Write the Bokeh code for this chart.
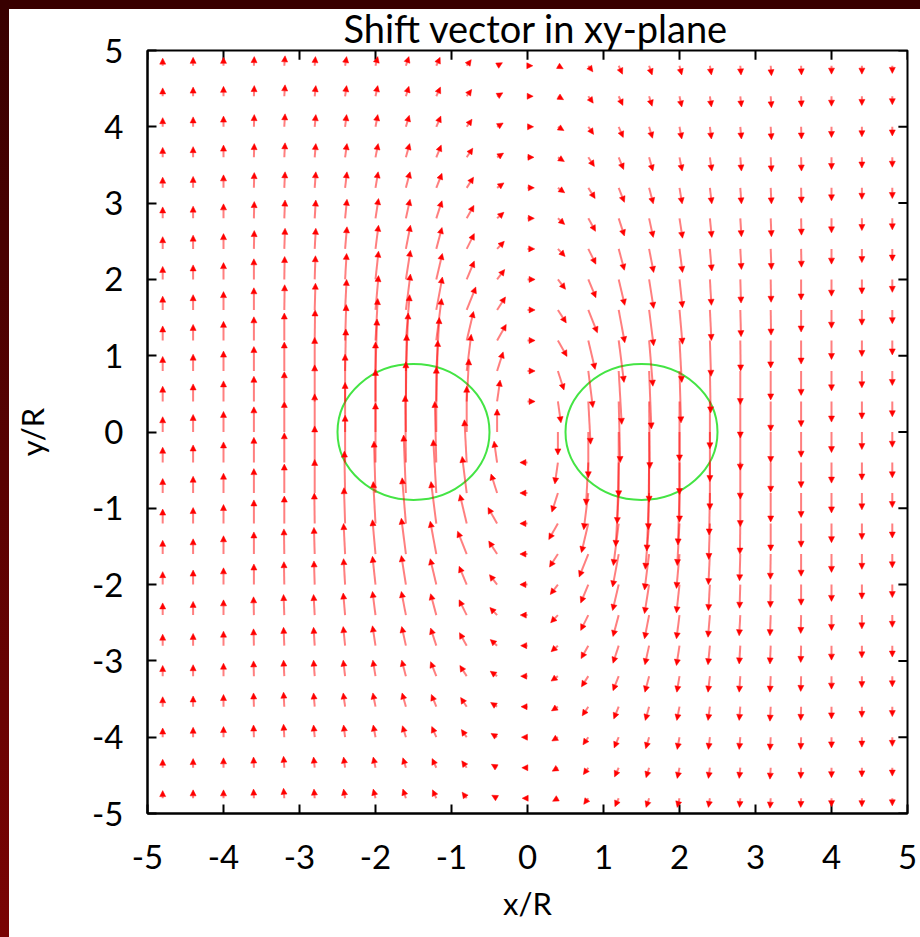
from bokeh.plotting import figure
from bokeh.models import Arrow, NormalHead, ColumnDataSource, FixedTicker
from bokeh.layouts import column
from bokeh.embed import file_html
from bokeh.resources import INLINE

# Sample points of the vector field (in units of R)
GRID = [-4.8, -4.4, -4.0, -3.6, -3.2, -2.8, -2.4, -2.0, -1.6, -1.2, -0.8, -0.4,
        0.0, 0.4, 0.8, 1.2, 1.6, 2.0, 2.4, 2.8, 3.2, 3.6, 4.0, 4.4, 4.8]

# Shift components in the quadrant x <= 0, y >= 0.
# One list per column x = -4.8 ... 0.0, entries for y = 0.0, 0.4, ... 4.8.
SHIFT_Y_QUAD = [
    [0.20, 0.20, 0.19, 0.19, 0.18, 0.17, 0.16, 0.15, 0.14, 0.13, 0.12, 0.11, 0.10],  # x=-4.8
    [0.23, 0.23, 0.22, 0.21, 0.20, 0.19, 0.18, 0.16, 0.15, 0.14, 0.13, 0.12, 0.11],  # x=-4.4
    [0.27, 0.27, 0.26, 0.25, 0.24, 0.22, 0.20, 0.19, 0.17, 0.16, 0.14, 0.13, 0.11],  # x=-4.0
    [0.33, 0.33, 0.32, 0.31, 0.29, 0.27, 0.24, 0.22, 0.20, 0.18, 0.16, 0.14, 0.12],  # x=-3.6
    [0.40, 0.39, 0.38, 0.36, 0.33, 0.30, 0.27, 0.24, 0.21, 0.19, 0.17, 0.15, 0.13],  # x=-3.2
    [0.50, 0.48, 0.44, 0.40, 0.35, 0.31, 0.27, 0.24, 0.21, 0.18, 0.16, 0.14, 0.12],  # x=-2.8
    [0.65, 0.62, 0.55, 0.47, 0.40, 0.34, 0.29, 0.25, 0.21, 0.18, 0.16, 0.14, 0.12],  # x=-2.4
    [0.82, 0.78, 0.68, 0.55, 0.45, 0.37, 0.31, 0.26, 0.21, 0.18, 0.16, 0.14, 0.12],  # x=-2.0
    [0.92, 0.88, 0.76, 0.60, 0.47, 0.38, 0.31, 0.25, 0.21, 0.18, 0.15, 0.13, 0.12],  # x=-1.6
    [0.85, 0.80, 0.70, 0.55, 0.43, 0.34, 0.28, 0.23, 0.19, 0.16, 0.14, 0.12, 0.11],  # x=-1.2
    [0.60, 0.56, 0.48, 0.38, 0.30, 0.24, 0.20, 0.17, 0.14, 0.12, 0.10, 0.09, 0.08],  # x=-0.8
    [0.30, 0.28, 0.25, 0.21, 0.17, 0.13, 0.10, 0.08, 0.065, 0.055, 0.05, 0.045, 0.04],  # x=-0.4
    [0.0, 0.0, 0.0, 0.0, 0.0, 0.0, 0.0, 0.0, 0.0, 0.0, 0.0, 0.0, 0.0],  # x=0.0
]
SHIFT_X_QUAD = [
    [0.0, 0.0, 0.0, 0.0, 0.0, 0.0, 0.0, 0.0, 0.0, 0.0, 0.0, 0.0, 0.0],  # x=-4.8
    [0.0, 0.0, 0.0, 0.0, 0.0, 0.0, 0.0, 0.0, 0.0, 0.0, 0.0, 0.0, 0.0],  # x=-4.4
    [0.0, 0.0, 0.0, 0.0, 0.0, 0.0, 0.0, 0.0, 0.0, 0.0, 0.0, 0.0, 0.0],  # x=-4.0
    [0.0, 0.0, 0.0, 0.0, 0.0, 0.0, 0.005, 0.005, 0.005, 0.005, 0.005, 0.005, 0.005],  # x=-3.6
    [0.0, 0.0, 0.0, 0.0, 0.005, 0.005, 0.01, 0.01, 0.01, 0.01, 0.01, 0.01, 0.01],  # x=-3.2
    [0.0, 0.0, 0.0, 0.005, 0.01, 0.01, 0.015, 0.015, 0.015, 0.015, 0.015, 0.015, 0.01],  # x=-2.8
    [0.0, 0.0, 0.01, 0.015, 0.02, 0.02, 0.025, 0.025, 0.025, 0.025, 0.02, 0.02, 0.02],  # x=-2.4
    [0.0, 0.0, 0.02, 0.03, 0.04, 0.04, 0.04, 0.04, 0.035, 0.035, 0.03, 0.03, 0.03],  # x=-2.0
    [0.0, 0.01, 0.03, 0.05, 0.06, 0.06, 0.06, 0.055, 0.055, 0.05, 0.045, 0.04, 0.04],  # x=-1.6
    [0.0, 0.02, 0.04, 0.07, 0.08, 0.08, 0.075, 0.075, 0.075, 0.065, 0.06, 0.055, 0.05],  # x=-1.2
    [0.0, 0.03, 0.06, 0.09, 0.12, 0.10, 0.10, 0.095, 0.09, 0.08, 0.07, 0.065, 0.06],  # x=-0.8
    [0.0, 0.04, 0.08, 0.12, 0.11, 0.10, 0.095, 0.09, 0.09, 0.085, 0.08, 0.075, 0.07],  # x=-0.4
    [0.0, 0.10, 0.10, 0.10, 0.10, 0.10, 0.095, 0.09, 0.09, 0.085, 0.08, 0.075, 0.07],  # x=0.0
]

# Stellar surfaces
STAR_X = [-1.5, 1.5]
STAR_Y = [0.0, 0.0]
STAR_WIDTH = [2.0, 2.0]
STAR_HEIGHT = [1.78, 1.78]

TICKS = [-5, -4, -3, -2, -1, 0, 1, 2, 3, 4, 5]
TITLE = "Shift vector in xy-plane"

FONT = "Lato"
TICK_LEN = 0.12  # inward tick length on the mirrored edges, in data units

# Unfold the quadrant onto the whole plane: the configuration is symmetric
# under reflection, with x-shift even in x / odd in y and y-shift odd in x / even in y.
x0, y0, x1, y1 = [], [], [], []
n = len(GRID)
mid = n // 2
for k in range(n):
    j = k if k <= mid else n - 1 - k
    sx = 1.0 if k <= mid else -1.0
    for m in range(n):
        i = abs(m - mid)
        sy = 1.0 if m >= mid else -1.0
        u = SHIFT_X_QUAD[j][i] * sy
        v = SHIFT_Y_QUAD[j][i] * sx
        if u == 0.0 and v == 0.0:
            continue
        x0.append(GRID[k])
        y0.append(GRID[m])
        x1.append(GRID[k] + u)
        y1.append(GRID[m] + v)

src = ColumnDataSource(dict(x0=x0, y0=y0, x1=x1, y1=y1))

# transparent border so the page frame painted behind shows through at the top
p = figure(width=911, height=935, x_range=(-5, 5), y_range=(-5, 5),
           output_backend="svg", toolbar_location=None,
           min_border_left=138, min_border_right=13,
           min_border_top=41, min_border_bottom=124,
           background_fill_color="white", border_fill_alpha=0)
p.grid.visible = False
p.outline_line_color = "black"
p.outline_line_width = 2

p.title.text = TITLE
p.title.align = "left"
p.title.offset = 196
p.title.standoff = 0
p.title.text_font = FONT
p.title.text_font_size = "38px"
p.title.text_font_style = "normal"
p.title.text_color = "black"

p.add_layout(Arrow(end=NormalHead(size=6, fill_color="red", line_color="red",
                                  line_width=0.5),
                   x_start="x0", y_start="y0", x_end="x1", y_end="y1",
                   source=src, line_color="red", line_width=2, line_alpha=0.5))

p.ellipse(x=STAR_X, y=STAR_Y, width=STAR_WIDTH, height=STAR_HEIGHT,
          fill_color=None, line_color="#44e444", line_width=2)

# mirrored inward ticks on the top and right edges
edge = [5.0] * len(TICKS)
inner = [5.0 - TICK_LEN] * len(TICKS)
p.segment(x0=TICKS, y0=edge, x1=TICKS, y1=inner, line_color="black", line_width=2)
p.segment(x0=edge, y0=TICKS, x1=inner, y1=TICKS, line_color="black", line_width=2)

labels = {t: str(t) for t in TICKS}
for ax in (p.xaxis[0], p.yaxis[0]):
    ax.ticker = FixedTicker(ticks=TICKS)
    ax.major_label_overrides = labels
    ax.major_tick_in = 9
    ax.major_tick_out = 0
    ax.minor_tick_line_color = None
    ax.axis_line_width = 2
    ax.major_tick_line_width = 2
    ax.major_label_text_font = FONT
    ax.major_label_text_font_size = "33px"
    ax.major_label_text_color = "black"
    ax.axis_label_text_font = FONT
    ax.axis_label_text_font_size = "31px"
    ax.axis_label_text_font_style = "normal"
    ax.axis_label_text_color = "black"

p.xaxis[0].axis_label = "x/R"
p.xaxis[0].major_label_standoff = 31
p.xaxis[0].axis_label_standoff = 12
p.yaxis[0].axis_label = "y/R"
p.yaxis[0].major_label_standoff = 24
p.yaxis[0].axis_label_standoff = 38

# dark red frame along the top and left edges of the page, white elsewhere
page_bg = ("linear-gradient(#380000, #380000) top left / 100% 9px no-repeat, "
           "linear-gradient(180deg, #380000, #7a0404) top left / 9px 100% no-repeat, "
           "#ffffff")
root = column(p, styles={"background": page_bg,
                         "padding-left": "9px", "padding-top": "2px"})

open("out.html", "w").write(file_html(root, INLINE))
